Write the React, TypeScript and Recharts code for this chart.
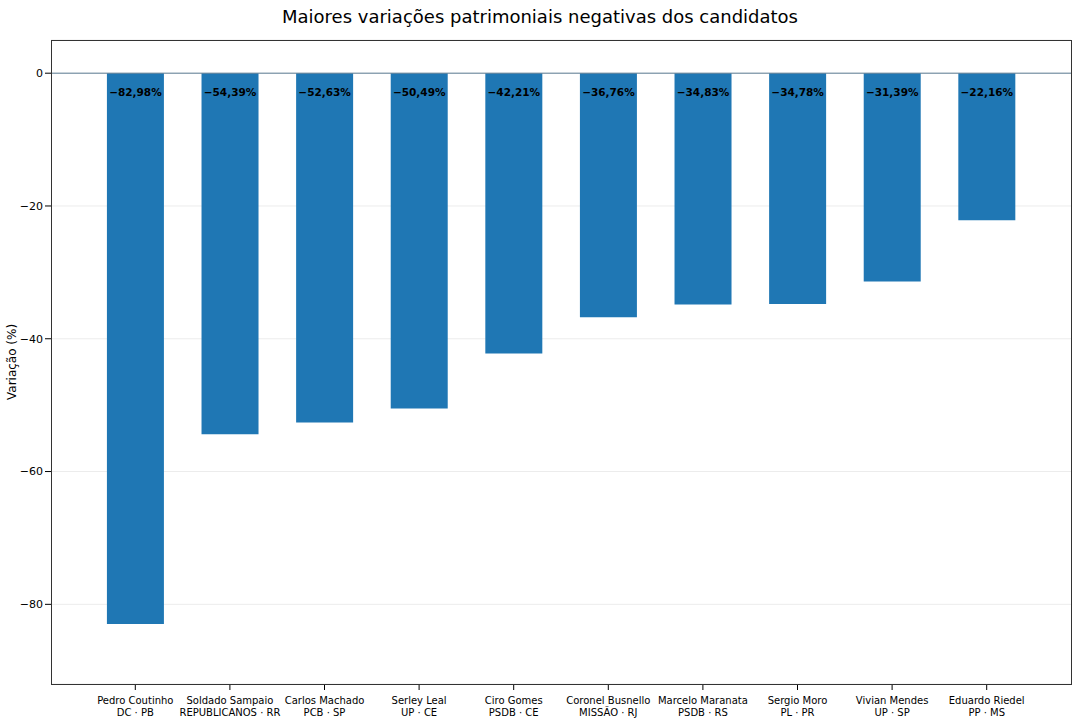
import React from "react";
import { BarChart, Bar, XAxis, YAxis, CartesianGrid, ReferenceLine, LabelList } from "recharts";

const names = ["Pedro Coutinho", "Soldado Sampaio", "Carlos Machado", "Serley Leal", "Ciro Gomes", "Coronel Busnello", "Marcelo Maranata", "Sergio Moro", "Vivian Mendes", "Eduardo Riedel"];
const parties = ["DC · PB", "REPUBLICANOS · RR", "PCB · SP", "UP · CE", "PSDB · CE", "MISSÃO · RJ", "PSDB · RS", "PL · PR", "UP · SP", "PP · MS"];
const values = [-82.98, -54.39, -52.63, -50.49, -42.21, -36.76, -34.83, -34.78, -31.39, -22.16];
const yTicks = [0, -20, -40, -60, -80];

const data = names.map((n, i) => ({ name: n, party: parties[i], value: values[i] }));
const FONT = "'DejaVu Sans', sans-serif";
const fmt = (v: number) => "\u2212" + Math.abs(v).toFixed(2).replace(".", ",") + "%";

function Tick({ x, y, payload, index }: any) {
  return (
    <g transform={`translate(${x},${y})`}>
      <text textAnchor="middle" fontSize={10} fill="#000" fontFamily={FONT}>
        <tspan x={0} dy={12}>{payload.value}</tspan>
        <tspan x={0} dy={11.5}>{data[index]?.party}</tspan>
      </text>
    </g>
  );
}

function ValLabel({ x, y, width, height, value }: any) {
  return (
    <text x={x + width / 2} y={y + height + 23} textAnchor="middle" fontSize={10.5} fontWeight="bold" fill="#000" fontFamily={FONT}>
      {fmt(value)}
    </text>
  );
}

export default function App() {
  return (
    <div style={{ position: "absolute", left: 0, top: 0, width: 1080, height: 720, background: "#fff", fontFamily: FONT }}>
      <div style={{ position: "absolute", top: 6, width: 1080, textAlign: "center", fontSize: 18 }}>
        Maiores variações patrimoniais negativas dos candidatos
      </div>
      <div style={{ position: "absolute", left: 5, top: 362, transform: "rotate(-90deg)", transformOrigin: "0 0", fontSize: 12 }}>
        <span style={{ position: "relative", left: -38 }}>Variação (%)</span>
      </div>
      <BarChart width={1080} height={720} data={data} margin={{ top: 40, right: 9, left: 0, bottom: 0 }} barCategoryGap="20%">
        <CartesianGrid horizontal vertical={false} stroke="#ececec" />
        <XAxis dataKey="name" tick={<Tick />} interval={0} height={36} tickLine={{ stroke: "#000" }} axisLine={false} padding={{ left: 37, right: 37 }} />
        <YAxis domain={[-92, 5]} ticks={yTicks} width={51} tick={{ fontSize: 11, fill: "#000", fontFamily: FONT }} tickLine={{ stroke: "#000" }} axisLine={false} tickFormatter={(v) => (v < 0 ? "\u2212" + Math.abs(v) : String(v))} allowDataOverflow />
        <ReferenceLine y={0} stroke="#5f7f96" strokeWidth={1} />
        <Bar dataKey="value" fill="#1f77b4" isAnimationActive={false}>
          <LabelList dataKey="value" content={<ValLabel />} />
        </Bar>
      </BarChart>
      <div style={{ position: "absolute", left: 51, top: 40, width: 1019, height: 643, border: "1px solid #333", pointerEvents: "none" }} />
    </div>
  );
}
